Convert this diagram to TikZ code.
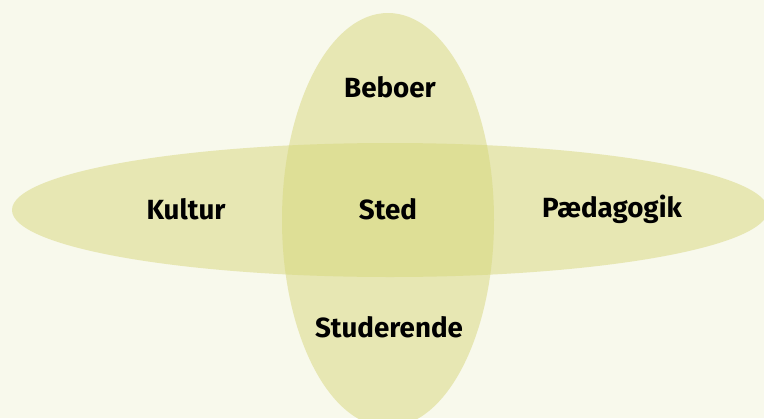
\documentclass[tikz,border=0pt]{standalone}
\usepackage{fontspec}
\setmainfont{Fira Sans}
\usepackage{tikz}
\usepackage{xcolor}
\definecolor{bund}{HTML}{F8F9EC}
\definecolor{felt}{HTML}{E7E7B3}
\definecolor{faelles}{HTML}{DEDF96}
\tikzset{
Felt/.style={
 fill=felt
 },
Faelles/.style={
 fill=faelles
 },
Ord/.style={
 font=\fontsize{20.8}{25}\selectfont\bfseries, 
 text=black, 
 inner sep=0pt
 }
}
\begin{document}
\begin{tikzpicture}[x=0.75pt,y=-0.75pt]
\fill[bund] (0,0) rectangle (764,418);
\useasboundingbox (0,0) rectangle (764,418);
\fill[Felt] (390,210) ellipse (378 and 67);
\fill[Felt] (388,220) ellipse (106 and 207);
\begin{scope}
\clip (390,210) ellipse (378 and 67);
\fill[Faelles] (388,220) ellipse (106 and 207);
\end{scope}
\node[Ord] (beboer) at (390,87) {Beboer};
\node[Ord] (kultur) at (186,209) {Kultur};
\node[Ord] (sted) at (388,209) {Sted};
\node[Ord] (paedagogik) at (612,209) {Pædagogik};
\node[Ord] (studerende) at (389,327) {Studerende};
\end{tikzpicture}
\end{document}
